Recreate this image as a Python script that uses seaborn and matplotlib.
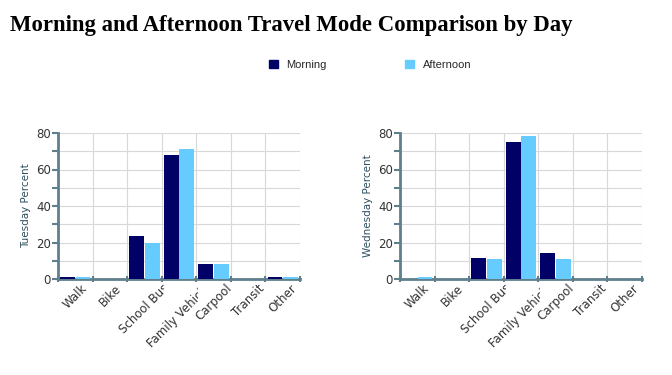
import numpy as np
import pandas as pd
import matplotlib.pyplot as plt
import matplotlib.transforms as mtransforms
import seaborn as sns

# data
modes = ["Walk", "Bike", "School Bus", "Family Vehicle", "Carpool", "Transit", "Other"]
tue_morning = [1, 0, 23.5, 68, 8, 0, 1]
tue_afternoon = [1, 0, 20, 71, 8, 0, 1]
wed_morning = [0, 0, 11.5, 75, 14, 0, 0]
wed_afternoon = [1, 0, 11, 78.5, 11, 0, 0]
periods = ["Morning", "Afternoon"]

colors = {"Morning": "#000066", "Afternoon": "#66ccff"}
spine_col = "#5f7f8c"


def make_df(morning, afternoon):
    return pd.DataFrame({
        "Mode": modes * 2,
        "Period": ["Morning"] * len(modes) + ["Afternoon"] * len(modes),
        "Percent": list(morning) + list(afternoon),
    })


sns.set_style("white")
plt.rcParams['font.family'] = ['DejaVu Sans']

fig = plt.figure(figsize=(6.72, 3.75), dpi=100)
ax1 = fig.add_axes([58 / 672, 1 - 279 / 375, 242 / 672, 146 / 375])
ax2 = fig.add_axes([400 / 672, 1 - 279 / 375, 242 / 672, 146 / 375])

for ax, m, a, lab in [(ax1, tue_morning, tue_afternoon, "Tuesday Percent"),
                      (ax2, wed_morning, wed_afternoon, "Wednesday Percent")]:
    df = make_df(m, a)
    sns.barplot(data=df, x="Mode", y="Percent", hue="Period", hue_order=periods,
                palette=colors, saturation=1, width=0.9, gap=0.05, ax=ax, legend=False,
                edgecolor="none", zorder=3)
    ax.set_xlim(-0.5, len(modes) - 0.5)
    ax.set_ylim(0, 80)
    ax.set_yticks(np.arange(0, 81, 20))
    ax.set_yticks(np.arange(10, 80, 20), minor=True)
    ax.set_xticks(np.arange(-0.5, len(modes), 1), minor=True)
    ax.set_xticks(range(len(modes)))
    ax.set_xticklabels(modes, rotation=45, ha="center", fontsize=8.5, color="#333333")
    ax.tick_params(axis="x", which="major", bottom=False, length=0, pad=2)
    ax.tick_params(axis="x", which="minor", bottom=True, length=4, width=1.5,
                   color=spine_col, direction="inout")
    ax.tick_params(axis="y", which="both", left=True, length=4, width=1.5, color=spine_col,
                   labelsize=8.5, labelcolor="#333333", pad=1)
    ax.grid(which="minor", axis="x", color="#d8d8d8", lw=0.8)
    ax.grid(which="both", axis="y", color="#d8d8d8", lw=0.8)
    ax.set_axisbelow(True)
    for s in ["top", "right"]:
        ax.spines[s].set_visible(False)
    for s in ["left", "bottom"]:
        ax.spines[s].set_color(spine_col)
        ax.spines[s].set_linewidth(2)
    ax.set_xlabel("")
    ax.set_ylabel(lab, fontsize=7.5, color="#2f4f5f", labelpad=4)

    # the original cuts each label at the right edge of its category
    for i, t in enumerate(ax.get_xticklabels()):
        xr = ax.transData.transform((i + 0.5, 0))[0] + 2
        t.set_clip_box(mtransforms.Bbox.from_extents(0, 0, xr, fig.bbox.height))
        t.set_clip_on(True)

fig.text(10 / 672, 1 - 25 / 375, "Morning and Afternoon Travel Mode Comparison by Day",
         family="Liberation Serif", fontweight="bold", fontsize=16.4, color="black",
         va="center", ha="left")

handles = [plt.Rectangle((0, 0), 1, 1, color=colors[p]) for p in periods]
fig.legend(handles, periods, loc="center", bbox_to_anchor=(370 / 672, 1 - 65 / 375), ncol=2,
           frameon=False, handlelength=0.8, handleheight=0.8, columnspacing=7,
           prop={"family": "Liberation Sans", "size": 8})

plt.savefig("out.png", dpi=100)
